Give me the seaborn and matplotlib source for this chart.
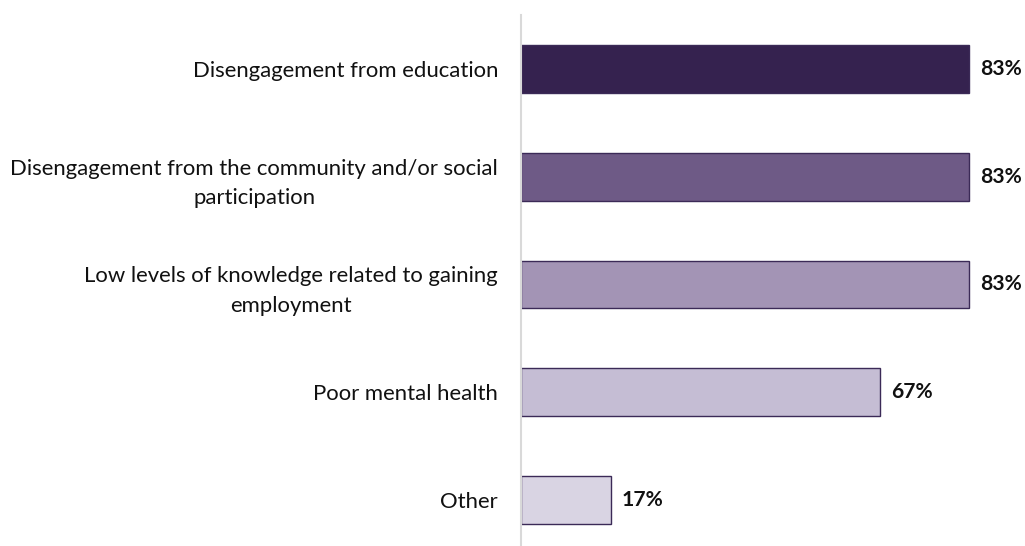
import matplotlib
matplotlib.use("Agg")
import matplotlib.pyplot as plt
import seaborn as sns
import pandas as pd

categories = [
    "Disengagement from education",
    "Disengagement from the community and/or social\nparticipation",
    "Low levels of knowledge related to gaining\nemployment",
    "Poor mental health",
    "Other",
]
values = [83.3, 83.3, 83.3, 66.7, 16.7]
colors = ["#35224f", "#6e5a86", "#a394b5", "#c5bdd4", "#d9d4e3"]

df = pd.DataFrame({"category": categories, "value": values})

sns.set_theme(style="white")
plt.rcParams["font.family"] = ["Lato", "DejaVu Sans"]

W, H = 1025, 546
fig = plt.figure(figsize=(W / 100, H / 100), dpi=100)
# axes in pixel terms: left at x=521, right at x=1025, top at y=15
left, right, top, bottom = 521, 1025, 15, 554
ax = fig.add_axes([left / W, (H - bottom) / H, (right - left) / W, (bottom - top) / H])

sns.barplot(
    data=df, y="category", x="value", hue="category", palette=colors,
    orient="h", width=0.444, legend=False, ax=ax,
    edgecolor="#3b2a57", linewidth=1.0, saturation=1,
)

ax.set_xlim(0, 83.3 * (right - left) / 448)
ax.set_ylim(4.5, -0.5)
ax.set_xlabel("")
ax.set_ylabel("")
ax.set_xticks([])

for s in ["top", "right", "bottom"]:
    ax.spines[s].set_visible(False)
ax.spines["left"].set_color("#d9d9d9")
ax.spines["left"].set_linewidth(1.5)

ax.tick_params(axis="y", length=0, pad=16.5)
for t in ax.get_yticklabels():
    t.set_fontsize(15.9)
    t.set_color("#111111")
    t.set_multialignment("center")
    t.set_linespacing(1.6)

for i, v in enumerate(values):
    ax.annotate(f"{v:.0f}%", xy=(v, i), xytext=(8, 0), textcoords="offset points",
                va="center", ha="left", fontsize=15.2, fontweight="bold", color="#111111")

fig.savefig("out.png", dpi=100)
